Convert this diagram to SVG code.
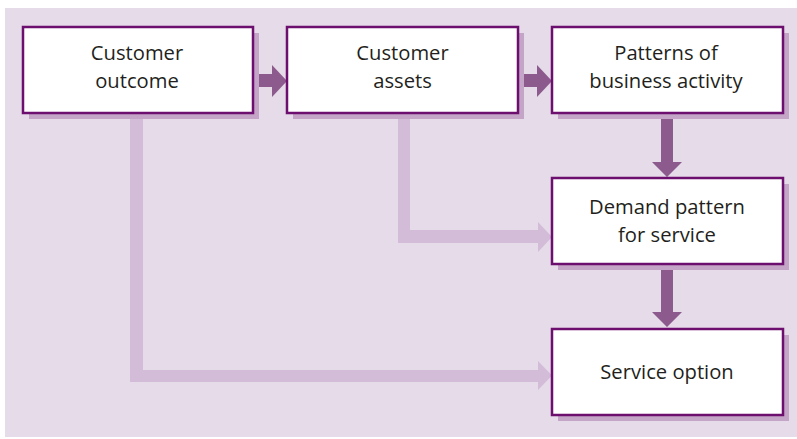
<svg xmlns="http://www.w3.org/2000/svg" width="797" height="439" viewBox="0 0 797 439">
<defs>
<style>
.bg{fill:#e5dbe9}
.shadow{fill:#c4a5c8}
.box{fill:#ffffff;stroke:#6c0f6e;stroke-width:2.5}
.lbl{font-family:"Open Sans","Noto Sans",sans-serif;font-size:20.2px;fill:#231f20;text-anchor:middle}
.dark{fill:#8c5a8c}
.light{fill:#d3bcd7}
</style>
</defs>
<rect class="bg" x="5" y="8" width="792" height="429"/>
<g id="connectors">
<path class="light" d="M130,113 H143 V370 H538 V361 L552,375.5 L538,390 V382 H130 Z"/>
<path class="light" d="M398,113 H410 V230 H538 V222 L552,237 L538,252 V243 H398 Z"/>
<path class="dark" d="M258,74 H272 V65 L287,81 L272,97 V87 H258 Z"/>
<path class="dark" d="M523,74 H537 V65 L552,81 L537,97 V87 H523 Z"/>
<path class="dark" d="M661,119 H673 V162 H682 L667,177 L652,162 H661 Z"/>
<path class="dark" d="M661,270 H673 V312 H682 L667,327 L652,312 H661 Z"/>
</g>
<g id="n1">
<rect class="shadow" x="29" y="33" width="230" height="86"/>
<rect class="box" x="23" y="27" width="230" height="86"/>
<text class="lbl" x="137" y="60">Customer</text>
<text class="lbl" x="137" y="88">outcome</text>
</g>
<g id="n2">
<rect class="shadow" x="293" y="33" width="231" height="86"/>
<rect class="box" x="287" y="27" width="231" height="86"/>
<text class="lbl" x="402.5" y="60">Customer</text>
<text class="lbl" x="402.5" y="88">assets</text>
</g>
<g id="n3">
<rect class="shadow" x="558" y="33" width="231" height="86"/>
<rect class="box" x="552" y="27" width="231" height="86"/>
<text class="lbl" x="666" y="60">Patterns of</text>
<text class="lbl" x="666" y="88">business activity</text>
</g>
<g id="n4">
<rect class="shadow" x="558" y="184" width="231" height="86"/>
<rect class="box" x="552" y="178" width="231" height="86"/>
<text class="lbl" x="667" y="213.5">Demand pattern</text>
<text class="lbl" x="667" y="241.5">for service</text>
</g>
<g id="n5">
<rect class="shadow" x="558" y="335" width="231" height="86"/>
<rect class="box" x="552" y="329" width="231" height="86"/>
<text class="lbl" x="667" y="379">Service option</text>
</g>
</svg>
